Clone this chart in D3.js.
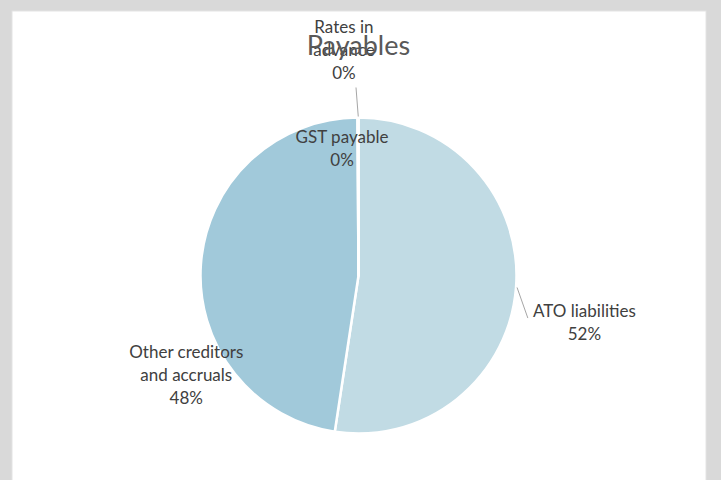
<!DOCTYPE html>
<html>
<head>
<meta charset="utf-8">
<script src="https://cdn.jsdelivr.net/npm/d3@7"></script>
<style>
  body { margin: 0; background: #d9d9d9; }
  svg { display: block; }
</style>
</head>
<body>
<div id="chart"></div>
<script>
// data
const categories = ["ATO liabilities", "Other creditors and accruals", "GST payable", "Rates in advance"];
const values = [52.4, 47.5, 0.05, 0.05];
const percentLabels = ["52%", "48%", "0%", "0%"];
const labelLines = [["ATO liabilities"], ["Other creditors", "and accruals"], ["GST payable"], ["Rates in", "advance"]];
const colors = ["#c1dbe4", "#a1c9da", "#8fbfd2", "#b0d2df"];

// label placement: angle (deg, clockwise from 12 o'clock) and distance in radii
const labelSpots = [
  { angle: 101.7, dist: 1.46, leader: { angle: 104.1, dist: 1.105 } },
  { angle: 239.9, dist: 1.26, leader: null },
  { angle: 352.6, dist: 0.81, leader: null },
  { angle: 356.3, dist: 1.43, leader: { angle: -0.76, dist: 1.19 } }
];

let width = 721;
let height = 480;
let cx = 358.5;
let cy = 275.5;
let radius = 158;
let lineHeight = 23;

let svg = d3.select("#chart").append("svg")
  .attr("width", width)
  .attr("height", height);

svg.append("rect")
  .attr("x", 12)
  .attr("y", 11)
  .attr("width", 694)
  .attr("height", height)
  .attr("fill", "white")
  .attr("stroke", "#e4e4e4");

let g = svg.append("g")
  .attr("transform", `translate(${cx}, ${cy})`);

let pie = d3.pie().sort(null).value((d) => d.value);
let arc = d3.arc().innerRadius(0).outerRadius(radius);

let data = categories.map((c, i) => ({ name: c, value: values[i], idx: i }));
let arcs = pie(data);

g.selectAll("path.slice").data(arcs)
  .enter().append("path")
  .classed("slice", true)
  .attr("d", arc)
  .attr("fill", (d) => colors[d.data.idx])
  .attr("stroke", "white")
  .attr("stroke-width", 2.5)
  .attr("stroke-linejoin", "round");

function polar(angleDeg, r) {
  let a = angleDeg * Math.PI / 180;
  return [r * Math.sin(a), -r * Math.cos(a)];
}

// leader lines
arcs.forEach((d, i) => {
  let spot = labelSpots[i];
  if (!spot.leader) return;
  let mid = (d.startAngle + d.endAngle) / 2 * 180 / Math.PI;
  let p0 = polar(mid, radius + 1);
  let p1 = polar(spot.leader.angle, spot.leader.dist * radius);
  g.append("line")
    .attr("x1", p0[0]).attr("y1", p0[1])
    .attr("x2", p1[0]).attr("y2", p1[1])
    .attr("stroke", "#a6a6a6")
    .attr("stroke-width", 1);
});

// title (drawn before labels, labels overlap it as in the reference)
svg.append("text")
  .attr("x", cx)
  .attr("y", 46)
  .attr("dy", "0.35em")
  .attr("text-anchor", "middle")
  .style("font-family", "Lato, 'Liberation Sans', sans-serif")
  .style("font-size", "27px")
  .attr("fill", "#595959")
  .text("Payables");

// data labels
arcs.forEach((d, i) => {
  let spot = labelSpots[i];
  let pos = polar(spot.angle, spot.dist * radius);
  let lines = labelLines[i].concat([percentLabels[i]]);
  let n = lines.length;
  let text = g.append("text")
    .attr("text-anchor", "middle")
    .style("font-family", "Lato, 'Liberation Sans', sans-serif")
    .style("font-size", "17px")
    .attr("fill", "#404040");
  lines.forEach((line, j) => {
    text.append("tspan")
      .attr("x", pos[0])
      .attr("y", pos[1] + (j - (n - 1) / 2) * lineHeight)
      .attr("dy", "0.35em")
      .text(line);
  });
});
</script>
</body>
</html>
